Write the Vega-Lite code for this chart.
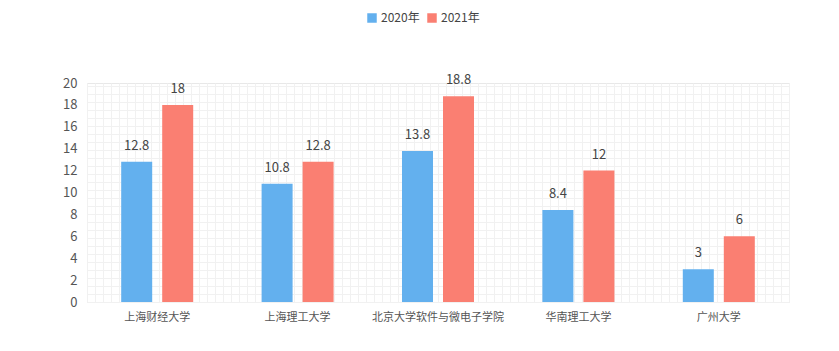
{
  "$schema": "https://vega.github.io/schema/vega-lite/v6.json",
  "width": 702,
  "height": 219,
  "autosize": {"type": "none"},
  "padding": {"left": 87, "top": 83, "right": 50, "bottom": 49},
  "background": "white",
  "config": {
    "font": "Noto Sans CJK SC",
    "view": {"stroke": "#e8e8e8"}
  },
  "data": {
    "values": [
      {"school": "上海财经大学", "year": "2020年", "value": 12.8},
      {"school": "上海财经大学", "year": "2021年", "value": 18},
      {"school": "上海理工大学", "year": "2020年", "value": 10.8},
      {"school": "上海理工大学", "year": "2021年", "value": 12.8},
      {"school": "北京大学软件与微电子学院", "year": "2020年", "value": 13.8},
      {"school": "北京大学软件与微电子学院", "year": "2021年", "value": 18.8},
      {"school": "华南理工大学", "year": "2020年", "value": 8.4},
      {"school": "华南理工大学", "year": "2021年", "value": 12},
      {"school": "广州大学", "year": "2020年", "value": 3},
      {"school": "广州大学", "year": "2021年", "value": 6}
    ]
  },
  "layer": [
    {
      "mark": {"type": "point", "opacity": 0},
      "encoding": {
        "x": {
          "datum": 0,
          "type": "quantitative",
          "scale": {"domain": [0, 88], "nice": false, "zero": false},
          "axis": {
            "orient": "top",
            "grid": true,
            "gridColor": "#f1f1f1",
            "labels": false,
            "ticks": false,
            "domain": false,
            "title": null,
            "values": [0,1,2,3,4,5,6,7,8,9,10,11,12,13,14,15,16,17,18,19,20,21,22,23,24,25,26,27,28,29,30,31,32,33,34,35,36,37,38,39,40,41,42,43,44,45,46,47,48,49,50,51,52,53,54,55,56,57,58,59,60,61,62,63,64,65,66,67,68,69,70,71,72,73,74,75,76,77,78,79,80,81,82,83,84,85,86,87,88]
          }
        },
        "y": {
          "datum": 0,
          "type": "quantitative",
          "scale": {"domain": [0, 27.4], "nice": false, "zero": false},
          "axis": {
            "orient": "right",
            "grid": true,
            "gridColor": "#f1f1f1",
            "labels": false,
            "ticks": false,
            "domain": false,
            "title": null,
            "values": [0,1,2,3,4,5,6,7,8,9,10,11,12,13,14,15,16,17,18,19,20,21,22,23,24,25,26,27]
          }
        }
      }
    },
    {
      "encoding": {
        "x": {
          "field": "school",
          "type": "nominal",
          "sort": null,
          "scale": {"paddingInner": 0, "paddingOuter": 0},
          "axis": {
            "orient": "bottom",
            "title": null,
            "labelAngle": 0,
            "ticks": false,
            "domain": false,
            "grid": false,
            "labelPadding": 9,
            "labelFontSize": 11,
            "labelColor": "#555555"
          }
        },
        "xOffset": {
          "field": "year",
          "type": "nominal",
          "scale": {"paddingInner": 0.244, "paddingOuter": 0.834}
        },
        "y": {
          "field": "value",
          "type": "quantitative",
          "scale": {"domain": [0, 20], "nice": false},
          "axis": {
            "orient": "left",
            "title": null,
            "values": [0, 2, 4, 6, 8, 10, 12, 14, 16, 18, 20],
            "grid": false,
            "ticks": false,
            "domain": false,
            "labelPadding": 10,
            "labelFontSize": 13,
            "labelColor": "#555555"
          }
        }
      },
      "layer": [
        {
          "mark": {"type": "bar"},
          "encoding": {
            "color": {
              "field": "year",
              "type": "nominal",
              "scale": {"domain": ["2020年", "2021年"], "range": ["#63b0ee", "#fa7f72"]},
              "legend": {
                "orient": "none",
                "legendX": 279,
                "legendY": -71,
                "direction": "horizontal",
                "title": null,
                "symbolType": "square",
                "symbolSize": 90,
                "symbolStrokeWidth": 0,
                "labelFontSize": 12,
                "labelColor": "#444444",
                "labelOffset": 3,
                "columnPadding": 6
              }
            }
          }
        },
        {
          "mark": {"type": "text", "baseline": "bottom", "dy": -9, "fontSize": 13, "color": "#444444"},
          "encoding": {
            "text": {"field": "value", "type": "quantitative"}
          }
        }
      ]
    }
  ],
  "resolve": {"scale": {"x": "independent", "y": "independent"}, "axis": {"x": "independent", "y": "independent"}}
}
